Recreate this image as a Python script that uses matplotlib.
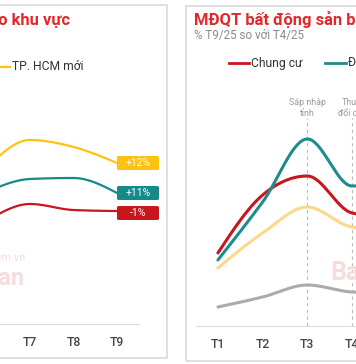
import numpy as np
import matplotlib
matplotlib.use("Agg")
import matplotlib.pyplot as plt
from matplotlib.lines import Line2D
from matplotlib.patches import Rectangle, FancyBboxPatch

plt.rcParams['font.family'] = ['Roboto', 'DejaVu Sans']

# ---------------- data ----------------
left_months = ['T6', 'T7', 'T8', 'T9']
left_hcm = [156, 184, 177, 161]       # TP. HCM mới (yellow)
left_teal = [132, 145, 146, 131]
left_red = [103, 120, 114, 113]
left_labels = ['+12%', '+11%', '-1%']

right_months = ['T1', 'T2', 'T3', 'T4', 'T5']
chung_cu = [73, 131, 150, 113, 108]
dat_nen = [66, 124, 187, 140, 146]
nha_pho = [58, 93, 119, 99, 96]
khac = [19, 29, 41, 34, 33]
events = {2: 'Sáp nhập\ntỉnh', 3: 'Thuế\nđổi chủ'}

# ---------------- helpers ----------------
W, H = 356, 364
def fx(px): return px / W
def fy(py): return 1 - py / H

def monotone(x, y, n=40):
    x = np.asarray(x, float); y = np.asarray(y, float)
    h = np.diff(x); d = np.diff(y) / h
    m = np.zeros_like(y)
    for k in range(1, len(y) - 1):
        s0, s1 = d[k - 1], d[k]
        p = (s0 * h[k] + s1 * h[k - 1]) / (h[k - 1] + h[k])
        m[k] = (np.sign(s0) + np.sign(s1)) * min(abs(s0), abs(s1), 0.5 * abs(p))
    m[0] = (3 * d[0] - m[1]) / 2 if len(y) > 2 else d[0]
    m[-1] = (3 * d[-1] - m[-2]) / 2 if len(y) > 2 else d[-1]
    xs, ys = [], []
    for k in range(len(x) - 1):
        t = np.linspace(0, 1, n)
        h00 = 2*t**3 - 3*t**2 + 1; h10 = t**3 - 2*t**2 + t
        h01 = -2*t**3 + 3*t**2; h11 = t**3 - t**2
        xs.append(x[k] + t * h[k])
        ys.append(h00*y[k] + h10*h[k]*m[k] + h01*y[k+1] + h11*h[k]*m[k+1])
    return np.concatenate(xs), np.concatenate(ys)

fig = plt.figure(figsize=(W / 100, H / 100), dpi=100)
fig.patch.set_facecolor('white')

# panel frames
fig.add_artist(Rectangle((fx(-10), fy(358)), fx(177), (358 - 5) / H, transform=fig.transFigure,
                         fill=False, edgecolor='#dddddd', lw=1.3))
fig.add_artist(Rectangle((fx(186), fy(361)), fx(200), (361 - 6) / H, transform=fig.transFigure,
                         fill=False, edgecolor='#dddddd', lw=1.3))

RED_T = '#e5262b'

# ---------------- left panel ----------------
fig.text(fx(70), fy(20), 'MĐQT theo khu vực', ha='right', va='center',
         fontsize=11.9, fontweight='bold', color=RED_T)
fig.add_artist(Line2D([fx(-10), fx(10)], [fy(67), fy(67)], transform=fig.transFigure,
                      color='#ffc20e', lw=1.6))
fig.text(fx(12), fy(67), 'TP. HCM mới', ha='left', va='center', fontsize=8.7, color='#333333')

# watermark
fig.text(fx(25), fy(258), 'batdongsan.com.vn', ha='right', va='center', fontsize=8, color='#f6dcdc')
fig.text(fx(25), fy(279), 'Batdongsan', ha='right', va='center', fontsize=17,
         fontweight='bold', color='#f6dcdc')

axl = fig.add_axes([fx(0), fy(324), fx(138.75), (324 - 100) / H])
axl.set_facecolor('none')
xl = np.arange(len(left_months))
series_l = [(left_hcm, '#ffc20e'), (left_teal, '#168a8a'), (left_red, '#c8161d')]
for vals, c in series_l:
    sx, sy = monotone(xl, vals)
    axl.plot(sx, sy, color=c, lw=1.6, solid_capstyle='round')
box_w = 42 / 43.5
for (vals, c), lab in zip(series_l, left_labels):
    yv = vals[-1]
    if lab == '-1%':
        yv -= 2
    axl.add_patch(FancyBboxPatch((3.0, yv - 7), box_w, 14,
                                 boxstyle='round,pad=0,rounding_size=0.05',
                                 mutation_aspect=25, facecolor=c, edgecolor='none',
                                 clip_on=False))
    axl.text(3.0 + box_w / 2, yv, lab, ha='center', va='center', color='white',
             fontsize=7.5, clip_on=False)
axl.set_xticks(xl)
axl.set_xticklabels(left_months)
axl.set_yticks([])
for s in ['left', 'right', 'top']:
    axl.spines[s].set_visible(False)
axl.spines['bottom'].set_color('#dddddd')
axl.tick_params(axis='x', length=0, pad=9, labelsize=8.8, labelcolor='#444444')
for t in axl.get_xticklabels():
    t.set_fontweight('medium')
axl.set_autoscale_on(False)
axl.set_xlim(0.31, 3.5)
axl.set_ylim(0, 224)

# ---------------- right panel ----------------
fig.text(fx(194), fy(20), 'MĐQT bất động sản bán theo loại hình', ha='left', va='center',
         fontsize=11.9, fontweight='bold', color=RED_T)
fig.text(fx(194), fy(36), '% T9/25 so với T4/25', ha='left', va='center',
         fontsize=8.4, color='#8a8a8a')
fig.add_artist(Line2D([fx(229), fx(249)], [fy(63), fy(63)], transform=fig.transFigure,
                      color='#c8161d', lw=2))
fig.text(fx(251), fy(63), 'Chung cư', ha='left', va='center', fontsize=8.7, color='#333333')
fig.add_artist(Line2D([fx(325), fx(346)], [fy(63), fy(63)], transform=fig.transFigure,
                      color='#1e8c8a', lw=2))
fig.text(fx(348), fy(63), 'Đất nền', ha='left', va='center', fontsize=8.7, color='#333333')

fig.text(fx(330), fy(273), 'Batdongsan', ha='left', va='center', fontsize=18,
         fontweight='bold', color='#f6dcdc')

axr = fig.add_axes([fx(196), fy(326), fx(380 - 196), (326 - 100) / H])
axr.set_facecolor('none')
xr = np.arange(len(right_months))
for pos, lab in events.items():
    axr.plot([pos, pos], [0, 208], color='#bbbbbb', lw=0.8, ls=(0, (3, 3)))
    axr.text(pos, 218, lab, ha='center', va='center', fontsize=6.4, color='#999999',
             linespacing=1.15)
for vals, c in [(khac, '#ababab'), (nha_pho, '#fbd88a'), (chung_cu, '#c8161d'),
                (dat_nen, '#1e8c8a')]:
    sx, sy = monotone(xr, vals)
    axr.plot(sx, sy, color=c, lw=2.2, solid_capstyle='round')
axr.set_xticks(xr)
axr.set_xticklabels(right_months)
axr.set_yticks([])
for s in ['left', 'right', 'top']:
    axr.spines[s].set_visible(False)
axr.spines['bottom'].set_color('#dddddd')
axr.tick_params(axis='x', length=0, pad=9, labelsize=8.8, labelcolor='#444444')
for t in axr.get_xticklabels():
    t.set_fontweight('medium')
axr.set_autoscale_on(False)
axr.set_xlim(-0.49, 3.624)
axr.set_ylim(0, 226)

fig.savefig('out.png', dpi=100)
